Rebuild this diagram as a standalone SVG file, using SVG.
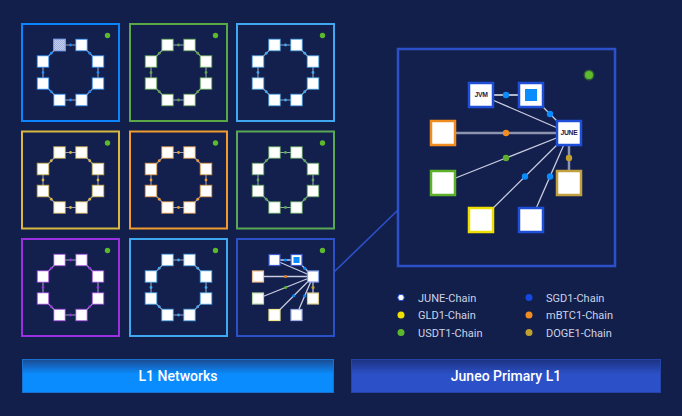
<svg xmlns="http://www.w3.org/2000/svg" xmlns:xlink="http://www.w3.org/1999/xlink" width="682" height="416" viewBox="0 0 682 416">
<defs>
<style>
.bg{fill:#121f4b}
.tile{fill:#131f4c;stroke-width:2}
.sq{fill:#ffffff;stroke:currentColor;stroke-opacity:0.6;stroke-width:1.2}
.ringline{fill:none;stroke:#9aa2bc;stroke-width:1.1}
.rdot{fill:currentColor}
.status{fill:#5cb82c}
.lg{font-family:Roboto,"Liberation Sans",sans-serif;font-size:11px;fill:#cdd3e6}
.bar{font-family:Roboto,"Liberation Sans",sans-serif;font-size:14px;font-weight:500;fill:#ffffff}
.thin{stroke:#c8cce0;stroke-width:1.3;fill:none}
.thick{stroke:#8c94b0;stroke-width:2.5;fill:none}
.bn{fill:#ffffff;stroke-width:2.5}
.bt{font-family:"Liberation Sans",Arial,sans-serif;font-size:6.8px;font-weight:bold;fill:#1a2050;text-anchor:middle;letter-spacing:-0.3px}
</style>
<pattern id="hatch" width="2" height="2" patternUnits="userSpaceOnUse">
<rect width="2" height="2" fill="#c4cfee"/>
<rect width="1" height="1" fill="#9fb0de"/>
<rect x="1" y="1" width="1" height="1" fill="#9fb0de"/>
</pattern>
<linearGradient id="gL1" x1="0" y1="0" x2="0" y2="1">
<stop offset="0" stop-color="#1b4b92"/>
<stop offset="0.45" stop-color="#0a8cff"/>
<stop offset="1" stop-color="#0a8cff"/>
</linearGradient>
<linearGradient id="gJP" x1="0" y1="0" x2="0" y2="1">
<stop offset="0" stop-color="#1c3380"/>
<stop offset="0.45" stop-color="#2c50c8"/>
<stop offset="1" stop-color="#2c50c8"/>
</linearGradient>
<g id="ring">
<polygon class="ringline" points="37.5,21 59.5,21 76,37.5 76,59.5 59.5,76 37.5,76 21,59.5 21,37.5"/>
<circle class="rdot" cx="48.5" cy="21" r="1.4"/>
<circle class="rdot" cx="67.75" cy="29.25" r="1.4"/>
<circle class="rdot" cx="76" cy="48.5" r="1.4"/>
<circle class="rdot" cx="67.75" cy="67.75" r="1.4"/>
<circle class="rdot" cx="48.5" cy="76" r="1.4"/>
<circle class="rdot" cx="29.25" cy="67.75" r="1.4"/>
<circle class="rdot" cx="21" cy="48.5" r="1.4"/>
<circle class="rdot" cx="29.25" cy="29.25" r="1.4"/>
<rect class="sq" x="31.75" y="15.25" width="11.5" height="11.5"/>
<rect class="sq" x="53.75" y="15.25" width="11.5" height="11.5"/>
<rect class="sq" x="70.25" y="31.75" width="11.5" height="11.5"/>
<rect class="sq" x="70.25" y="53.75" width="11.5" height="11.5"/>
<rect class="sq" x="53.75" y="70.25" width="11.5" height="11.5"/>
<rect class="sq" x="31.75" y="70.25" width="11.5" height="11.5"/>
<rect class="sq" x="15.25" y="53.75" width="11.5" height="11.5"/>
<rect class="sq" x="15.25" y="31.75" width="11.5" height="11.5"/>
<circle class="status" cx="85.5" cy="11.5" r="2.7"/>
</g>
</defs>

<rect class="bg" x="0" y="0" width="682" height="416"/>

<g id="connectors">
<line x1="334" y1="272" x2="398" y2="210" stroke="#2c50c8" stroke-width="1.6"/>
</g>

<g id="tile-1">
<rect class="tile" x="22" y="24" width="97" height="97" stroke="#0a84ff"/>
<use xlink:href="#ring" href="#ring" x="22" y="24" style="color:#1a8cff"/>
<rect x="53.75" y="39.25" width="11.5" height="11.5" fill="url(#hatch)" stroke="#8aa0e0" stroke-width="1"/>
</g>
<g id="tile-2">
<rect class="tile" x="130" y="24" width="97" height="97" stroke="#5aa845"/>
<use xlink:href="#ring" href="#ring" x="130" y="24" style="color:#5aa845"/>
</g>
<g id="tile-3">
<rect class="tile" x="237" y="24" width="97" height="97" stroke="#40a8f0"/>
<use xlink:href="#ring" href="#ring" x="237" y="24" style="color:#40a8f0"/>
</g>
<g id="tile-4">
<rect class="tile" x="22" y="131.5" width="97" height="97" stroke="#d8b840"/>
<use xlink:href="#ring" href="#ring" x="22" y="131.5" style="color:#d8b840"/>
</g>
<g id="tile-5">
<rect class="tile" x="130" y="131.5" width="97" height="97" stroke="#f09a30"/>
<use xlink:href="#ring" href="#ring" x="130" y="131.5" style="color:#f09a30"/>
</g>
<g id="tile-6">
<rect class="tile" x="237" y="131.5" width="97" height="97" stroke="#5aa855"/>
<use xlink:href="#ring" href="#ring" x="237" y="131.5" style="color:#5aa855"/>
</g>
<g id="tile-7">
<rect class="tile" x="22" y="239" width="97" height="97" stroke="#9a30e0"/>
<use xlink:href="#ring" href="#ring" x="22" y="239" style="color:#9a30e0"/>
</g>
<g id="tile-8">
<rect class="tile" x="130" y="239" width="97" height="97" stroke="#40a8f0"/>
<use xlink:href="#ring" href="#ring" x="130" y="239" style="color:#40a8f0"/>
</g>

<g id="tile-9">
<rect class="tile" x="237" y="239" width="97" height="97" stroke="#2c50c8"/>
<g transform="translate(237,239)">
<line x1="37.5" y1="21" x2="59.5" y2="21" stroke="#9aa2bc" stroke-width="2"/>
<line x1="37.5" y1="21" x2="76" y2="37.5" class="thin"/>
<line x1="59.5" y1="21" x2="76" y2="37.5" class="thin"/>
<line x1="21" y1="37.5" x2="76" y2="37.5" class="thin"/>
<line x1="21" y1="59.5" x2="76" y2="37.5" class="thin"/>
<line x1="37.5" y1="76" x2="76" y2="37.5" class="thin"/>
<line x1="59.5" y1="76" x2="76" y2="37.5" class="thin"/>
<line x1="76" y1="59.5" x2="76" y2="37.5" stroke="#9aa2bc" stroke-width="1.6"/>
<circle cx="48.5" cy="21" r="1.6" fill="#0a8cff"/>
<circle cx="67.75" cy="29.25" r="1.6" fill="#0a8cff"/>
<circle cx="48.5" cy="37.5" r="1.6" fill="#e07a20"/>
<circle cx="48.5" cy="48.5" r="1.6" fill="#5cb02c"/>
<circle cx="56.75" cy="56.75" r="1.6" fill="#0a8cff"/>
<circle cx="67.75" cy="56.75" r="1.6" fill="#0a8cff"/>
<circle cx="76" cy="48.5" r="1.6" fill="#c0a030"/>
<rect x="32" y="15.5" width="11" height="11" fill="#fff" stroke="#3a5ad0" stroke-width="1.2"/>
<rect x="54" y="15.5" width="11" height="11" fill="#fff" stroke="#3a5ad0" stroke-width="1.2"/>
<rect x="56.5" y="18" width="6" height="6" fill="#0a8cff"/>
<rect x="70.5" y="32" width="11" height="11" fill="#fff" stroke="#8aa2e8" stroke-width="1.2"/>
<rect x="15.5" y="32" width="11" height="11" fill="#fff" stroke="#f0c090" stroke-width="1.2"/>
<rect x="15.5" y="54" width="11" height="11" fill="#fff" stroke="#b8d8a8" stroke-width="1.2"/>
<rect x="70.5" y="54" width="11" height="11" fill="#fff" stroke="#d8c890" stroke-width="1.2"/>
<rect x="32" y="70.5" width="11" height="11" fill="#fff" stroke="#f0e890" stroke-width="1.2"/>
<rect x="54" y="70.5" width="11" height="11" fill="#fff" stroke="#a0b0e8" stroke-width="1.2"/>
<circle class="status" cx="85.5" cy="11.5" r="2.7"/>
</g>
</g>

<g id="primary-panel">
<rect x="398" y="49" width="217" height="217" fill="#131f4c" stroke="#2c50c8" stroke-width="2.5"/>
<circle cx="589" cy="75" r="5.5" fill="#2f5a3a"/>
<circle cx="589" cy="75" r="4" fill="#5cbc2c"/>
</g>

<g id="panel-connectors">
<line x1="481" y1="95" x2="531" y2="95" stroke="#e8ecf5" stroke-width="1.5"/>
<line x1="481" y1="95" x2="569" y2="133" class="thin"/>
<line x1="531" y1="95" x2="569" y2="133" class="thin"/>
<line x1="443" y1="133" x2="569" y2="133" class="thick"/>
<line x1="443" y1="183" x2="569" y2="133" class="thin"/>
<line x1="481" y1="220" x2="569" y2="133" class="thin"/>
<line x1="531" y1="220" x2="569" y2="133" class="thin"/>
<line x1="569" y1="183" x2="569" y2="133" class="thick"/>
<circle cx="506" cy="95" r="3.2" fill="#0a8cff"/>
<circle cx="550" cy="114" r="3.2" fill="#0a8cff"/>
<circle cx="506" cy="133" r="3.2" fill="#f08c20"/>
<circle cx="506" cy="158" r="3.2" fill="#5cb02c"/>
<circle cx="525" cy="176.5" r="3.2" fill="#0a8cff"/>
<circle cx="550" cy="176.5" r="3.2" fill="#0a8cff"/>
<circle cx="569" cy="158" r="3.2" fill="#c0a030"/>
</g>

<g id="node-jvm">
<rect class="bn" x="469" y="83" width="24" height="24" stroke="#1f4fd8"/>
<text class="bt" x="481" y="97.4">JVM</text>
</g>
<g id="node-jvm-sub">
<rect class="bn" x="519" y="83" width="24" height="24" stroke="#1f4fd8"/>
<rect x="525" y="89" width="12" height="12" fill="#0a8cff"/>
</g>
<g id="node-june">
<rect class="bn" x="557" y="121" width="24" height="24" stroke="#1f4fd8"/>
<text class="bt" x="569" y="135.4">JUNE</text>
</g>
<g id="node-mbtc1">
<rect class="bn" x="431" y="121" width="24" height="24" stroke="#f08c20"/>
</g>
<g id="node-usdt1">
<rect class="bn" x="431" y="171" width="24" height="24" stroke="#5cb02c"/>
</g>
<g id="node-doge1">
<rect class="bn" x="557" y="171" width="24" height="24" stroke="#c0a040"/>
</g>
<g id="node-gld1">
<rect class="bn" x="469" y="208" width="24" height="24" stroke="#f0e000"/>
</g>
<g id="node-sgd1">
<rect class="bn" x="519" y="208" width="24" height="24" stroke="#1f4fd8"/>
</g>

<g id="legend">
<circle cx="401" cy="297.5" r="3.2" fill="#ffffff" stroke="#1f4fd8" stroke-width="1"/>
<text class="lg" x="418" y="301.5">JUNE-Chain</text>
<circle cx="401" cy="315" r="3.5" fill="#f0e000"/>
<text class="lg" x="418" y="319">GLD1-Chain</text>
<circle cx="401" cy="332.5" r="3.5" fill="#5cb82c"/>
<text class="lg" x="418" y="336.5">USDT1-Chain</text>
<circle cx="529" cy="297.5" r="3.5" fill="#1448e0"/>
<text class="lg" x="546" y="301.5">SGD1-Chain</text>
<circle cx="529" cy="315" r="3.5" fill="#f08c20"/>
<text class="lg" x="546" y="319">mBTC1-Chain</text>
<circle cx="529" cy="332.5" r="3.5" fill="#c0a030"/>
<text class="lg" x="546" y="336.5">DOGE1-Chain</text>
</g>

<g id="bar-l1">
<rect x="22.5" y="359.5" width="311" height="33" fill="url(#gL1)" stroke="#1870d0" stroke-width="1"/>
<text class="bar" x="178" y="381" text-anchor="middle">L1 Networks</text>
</g>
<g id="bar-primary">
<rect x="351.5" y="359.5" width="309" height="33" fill="url(#gJP)" stroke="#2344a8" stroke-width="1"/>
<text class="bar" x="506" y="381" text-anchor="middle">Juneo Primary L1</text>
</g>
</svg>
